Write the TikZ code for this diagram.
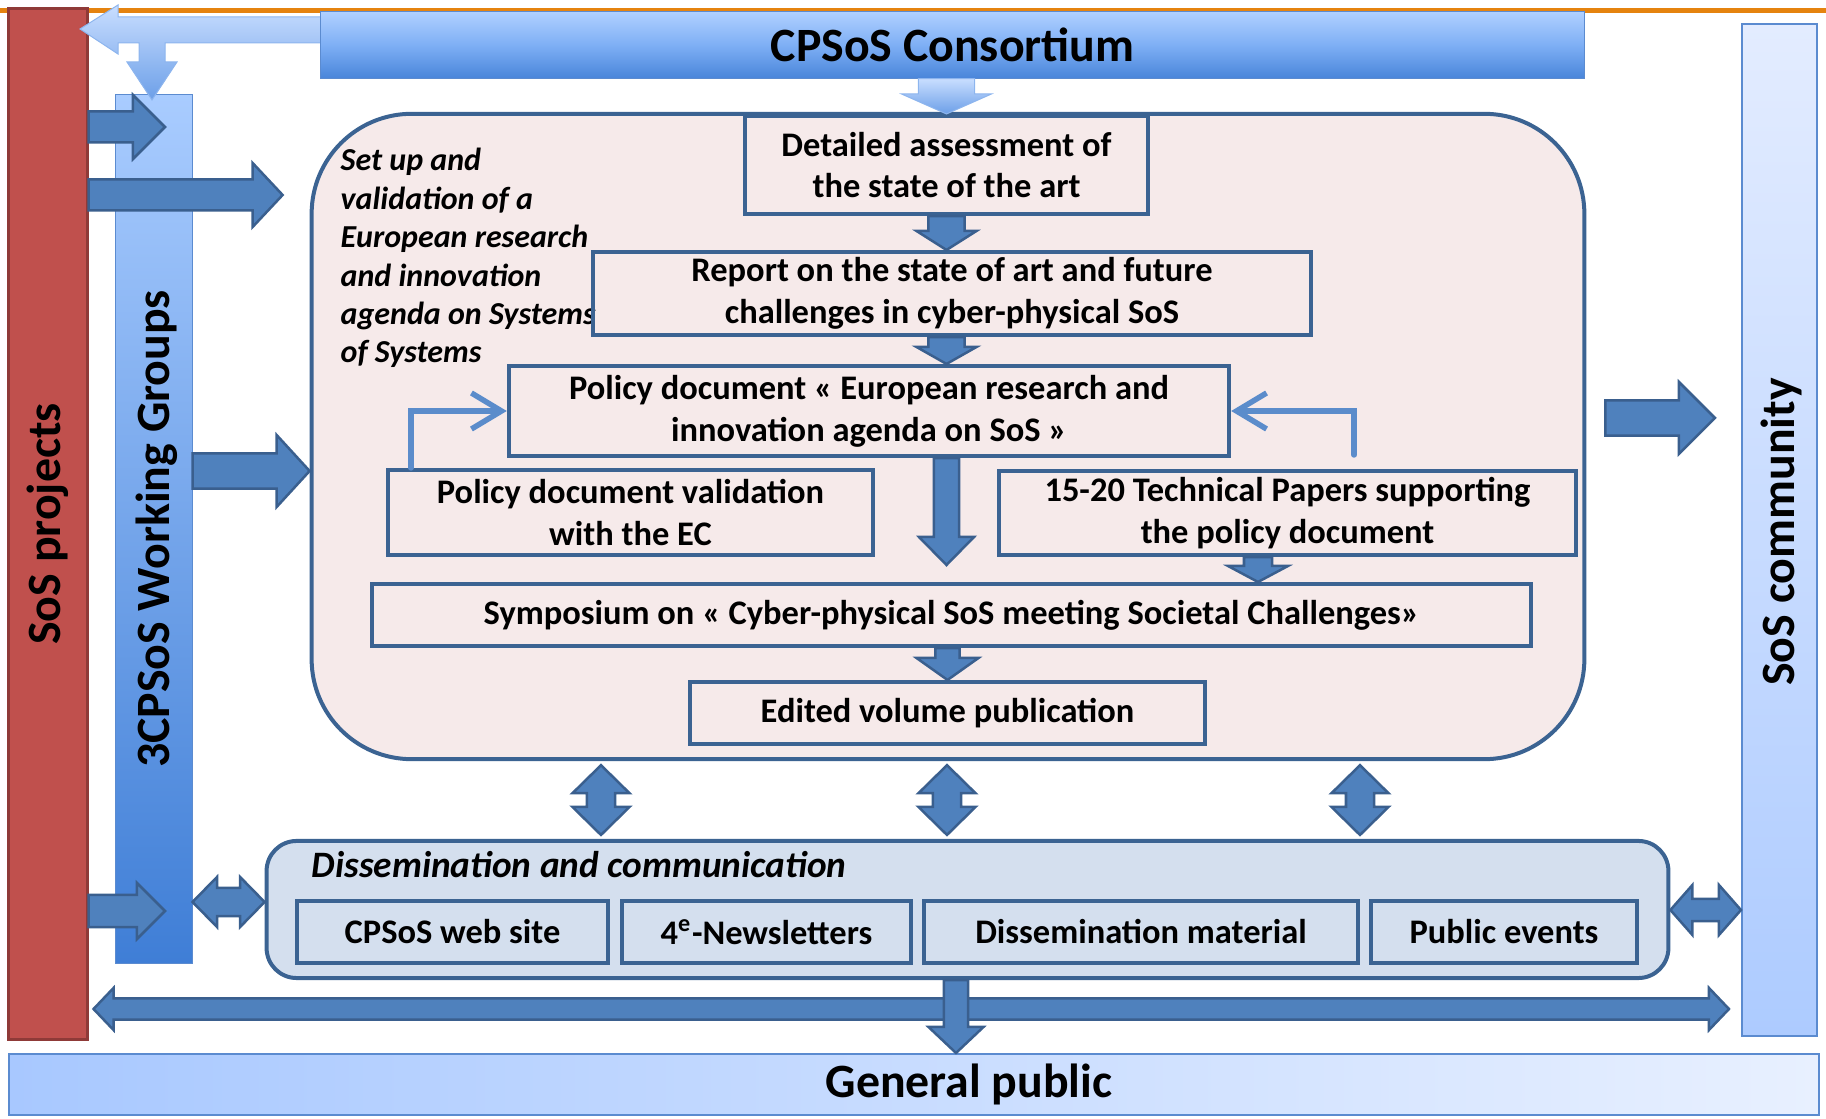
\documentclass[tikz,border=0pt]{standalone}
\usepackage{fontspec}
\setmainfont{Carlito}
\usetikzlibrary{calc,arrows.meta,positioning}

\definecolor{boxline}{HTML}{3B6392}
\definecolor{arrowfill}{HTML}{4F81BD}
\definecolor{arrowline}{HTML}{3A5F8E}
\definecolor{agendafill}{HTML}{F6EAEA}
\definecolor{dissfill}{HTML}{D4DFEE}
\definecolor{projred}{HTML}{C0504D}
\definecolor{projline}{HTML}{8F3A38}
\definecolor{barline}{HTML}{5B8BD0}
\definecolor{bentblue}{HTML}{5B8CCB}
\definecolor{orangeline}{HTML}{E5830F}
\definecolor{wgtop}{HTML}{A9CCFF}
\definecolor{wgbottom}{HTML}{3F7ED6}
\definecolor{comtop}{HTML}{E3ECFF}
\definecolor{combottom}{HTML}{ADCBFF}
\definecolor{constop}{HTML}{B0D0FF}
\definecolor{consbottom}{HTML}{4A86DA}
\definecolor{consmid}{HTML}{7EAFF5}
\definecolor{publicleft}{HTML}{A8C8FF}
\definecolor{publicright}{HTML}{E8F0FF}
\definecolor{lighttop}{HTML}{C9DEFF}
\definecolor{lightbottom}{HTML}{6C9FE8}
\definecolor{lightline}{HTML}{8DB5EE}

\tikzset{
  stepbox/.style={draw=boxline, line width=0.04cm, align=center, inner sep=0pt,
    font=\fontsize{9.8}{11.9}\selectfont\bfseries},
  bigfont/.style={font=\fontsize{13.6}{16}\selectfont\bfseries},
  sidelabel/.style={bigfont, rotate=90},
  projbar/.style={fill=projred, draw=projline, line width=0.03cm},
  wgbar/.style={top color=wgtop, bottom color=wgbottom, draw=barline, line width=0.01cm},
  combar/.style={top color=comtop, bottom color=combottom, draw=barline, line width=0.02cm},
  consbar/.style={bigfont, top color=constop, bottom color=consbottom, middle color=consmid,
    draw=barline, line width=0.01cm},
  publicbar/.style={left color=publicleft, right color=publicright, draw=barline, line width=0.02cm},
  agendabox/.style={draw=boxline, fill=agendafill, line width=0.04cm, rounded corners=1cm},
  dissbox/.style={draw=boxline, fill=dissfill, line width=0.04cm, rounded corners=0.3cm},
  blkarrow/.style={fill=arrowfill, draw=arrowline, line width=0.025cm, line join=miter},
  lightarrow/.style={top color=lighttop, bottom color=lightbottom, draw=lightline, line width=0.01cm},
  bentarrow/.style={draw=bentblue, line width=0.055cm, line cap=round,
    -{Straight Barb[length=0.3cm,width=0.36cm]}},
}

% block arrows: style, from, to, shaft half width, head half width, head length
\newcommand{\blkdown}[6]{%
  \path[#1] let \p1=#2, \p2=#3 in
    (\x1-#4,\y1) -- (\x1-#4,\y2+#6) -- (\x1-#5,\y2+#6) -- (\x1,\y2)
    -- (\x1+#5,\y2+#6) -- (\x1+#4,\y2+#6) -- (\x1+#4,\y1) -- cycle;}
\newcommand{\blkright}[6]{%
  \path[#1] let \p1=#2, \p2=#3 in
    (\x1,\y1+#4) -- (\x2-#6,\y1+#4) -- (\x2-#6,\y1+#5) -- (\x2,\y1)
    -- (\x2-#6,\y1-#5) -- (\x2-#6,\y1-#4) -- (\x1,\y1-#4) -- cycle;}
\newcommand{\blkupdown}[6]{%
  \path[#1] let \p1=#2, \p2=#3 in
    (\x1,\y1) -- (\x1+#5,\y1-#6) -- (\x1+#4,\y1-#6) -- (\x1+#4,\y2+#6)
    -- (\x1+#5,\y2+#6) -- (\x1,\y2) -- (\x1-#5,\y2+#6) -- (\x1-#4,\y2+#6)
    -- (\x1-#4,\y1-#6) -- (\x1-#5,\y1-#6) -- cycle;}
\newcommand{\blkleftright}[6]{%
  \path[#1] let \p1=#2, \p2=#3 in
    (\x1,\y1) -- (\x1+#6,\y1+#5) -- (\x1+#6,\y1+#4) -- (\x2-#6,\y1+#4)
    -- (\x2-#6,\y1+#5) -- (\x2,\y1) -- (\x2-#6,\y1-#5) -- (\x2-#6,\y1-#4)
    -- (\x1+#6,\y1-#4) -- (\x1+#6,\y1-#5) -- cycle;}

\begin{document}
\begin{tikzpicture}[x=0.01cm, y=-0.01cm]
\useasboundingbox (0,0) rectangle (1826,1119);
\draw[orangeline, line width=0.05cm] (0,11) -- (1826,11);

% side bars
\node[projbar, minimum width=0.78cm, minimum height=10.3cm] (proj) at (48,524) {};
\node[sidelabel] at (proj.center) {SoS projects};
\node[wgbar, minimum width=0.76cm, minimum height=8.68cm] (wg) at (154,529) {};
\node[sidelabel] at ($(wg.center)+(3,0)$) {3CPSoS Working Groups};
\node[combar, minimum width=0.75cm, minimum height=10.12cm] (com) at (1779.5,530) {};
\node[sidelabel] at ($(com.center)+(2,2)$) {SoS community};
\node[publicbar, minimum width=18.08cm, minimum height=0.61cm] (public) at (914,1084.5) {};
\node[bigfont] at ($(public.center)+(55,0)$) {General public};

% consortium and its bent arrow
\path[lightarrow] (80,29) -- (118,5) -- (118,17) -- (330,17) -- (330,43) -- (165,43)
  -- (165,62) -- (177,62) -- (152,100) -- (127,62) -- (139,62) -- (139,43)
  -- (118,43) -- (118,54) -- cycle;
\node[consbar, minimum width=12.63cm, minimum height=0.66cm] (cons) at (952.5,45) {CPSoS Consortium};

% agenda
\node[agendabox, minimum width=12.72cm, minimum height=6.45cm] (agenda) at (948,436.5) {};
\node[font=\fontsize{9.1}{10.93}\selectfont\bfseries\itshape, align=left, anchor=base west, inner sep=0pt]
  (note) at (340,363) {Set up and\\validation of a\\European research\\and innovation\\agenda on Systems\\of Systems};
\node[stepbox, minimum width=4.03cm, minimum height=0.98cm] (det) at (946.5,165) {Detailed assessment of\\the state of the art};
\node[stepbox, minimum width=7.18cm, minimum height=0.83cm] (rep) at (952,293.5) {Report on the state of art and future\\challenges in cyber-physical SoS};
\node[stepbox, minimum width=7.2cm, minimum height=0.9cm] (pol) at (869,411) {Policy document « European research and\\innovation agenda on SoS »};
\node[stepbox, minimum width=4.85cm, minimum height=0.85cm] (val) at (630.5,512.5) {Policy document validation\\with the EC};
\node[stepbox, minimum width=5.77cm, minimum height=0.84cm] (tech) at (1287.5,513) {15-20 Technical Papers supporting\\the policy document};
\node[stepbox, minimum width=11.59cm, minimum height=0.62cm] (sym) at (951.5,615) {Symposium on « Cyber-physical SoS meeting Societal Challenges»};
\node[stepbox, minimum width=5.15cm, minimum height=0.62cm] (edit) at (947.5,713) {Edited volume publication};
\coordinate (poltip) at (948,565);

\blkdown{lightarrow}{(det.north |- cons.south)}{(det.north)}{0.28cm}{0.45cm}{0.20cm}
\blkdown{blkarrow}{(det.south)}{(det.south |- rep.north)}{0.18cm}{0.30cm}{0.19cm}
\blkdown{blkarrow}{(det.south |- rep.south)}{(det.south |- pol.north)}{0.18cm}{0.30cm}{0.17cm}
\blkdown{blkarrow}{(det.south |- pol.south)}{(poltip)}{0.125cm}{0.275cm}{0.28cm}
\blkdown{blkarrow}{($(tech.south)+(-29.5,0)$)}{($(tech.south |- sym.north)+(-29.5,0)$)}{0.14cm}{0.30cm}{0.16cm}
\blkdown{blkarrow}{(edit.north |- sym.south)}{(edit.north)}{0.12cm}{0.31cm}{0.22cm}
\draw[bentarrow] ([xshift=0.25cm]val.north west) |- (pol.west);
\draw[bentarrow] ([xshift=-2.24cm,yshift=0.14cm]tech.north east) |- (pol.east);

% dissemination
\node[dissbox, minimum width=14.01cm, minimum height=1.37cm] (diss) at (967.5,909.5) {};
\node[font=\fontsize{10.6}{12.5}\selectfont\bfseries\itshape, anchor=base west, inner sep=0pt]
  (disstitle) at (311,878) {Dissemination and communication};
\foreach \name/\cx/\w/\txt in {web/452.5/3.11/CPSoS web site,
    news/766.5/2.89/4\textsuperscript{e}-Newsletters,
    mat/1141/4.34/Dissemination material,
    events/1504/2.66/Public events}
  \node[stepbox, minimum width=\w cm, minimum height=0.62cm] (\name) at (\cx,932) {\txt};

% links between blocks
\blkright{blkarrow}{(proj.east |- 0,127)}{($(wg.center |- 0,127)+(11,0)$)}{0.155cm}{0.32cm}{0.32cm}
\blkright{blkarrow}{(proj.east |- 0,195)}{($(agenda.west |- 0,195)+(-27,0)$)}{0.155cm}{0.32cm}{0.30cm}
\blkright{blkarrow}{(wg.east |- 0,471)}{(agenda.west |- 0,471)}{0.175cm}{0.36cm}{0.33cm}
\blkright{blkarrow}{(proj.east |- 0,911)}{($(wg.center |- 0,911)+(11,0)$)}{0.16cm}{0.28cm}{0.28cm}
\blkright{blkarrow}{($(agenda.east |- 0,418)+(19,0)$)}{($(com.west |- 0,418)+(-26,0)$)}{0.175cm}{0.36cm}{0.36cm}
\foreach \ax in {601,947,1360}
  \blkupdown{blkarrow}{($(agenda.south -| \ax,0)+(0,4)$)}{($(diss.north -| \ax,0)+(0,-4)$)}{0.14cm}{0.285cm}{0.28cm};
\blkleftright{blkarrow}{(wg.east |- 0,902)}{(diss.west |- 0,902)}{0.14cm}{0.25cm}{0.245cm}
\blkleftright{blkarrow}{(diss.east |- 0,910)}{(com.west |- 0,910)}{0.11cm}{0.25cm}{0.22cm}
\blkleftright{blkarrow}{($(proj.east |- 0,1009)+(5,0)$)}{($(com.west |- 0,1009)+(-12,0)$)}{0.105cm}{0.21cm}{0.20cm}
\blkdown{blkarrow}{(956,0 |- diss.south)}{(956,0 |- public.north)}{0.12cm}{0.275cm}{0.26cm}
\end{tikzpicture}
\end{document}
